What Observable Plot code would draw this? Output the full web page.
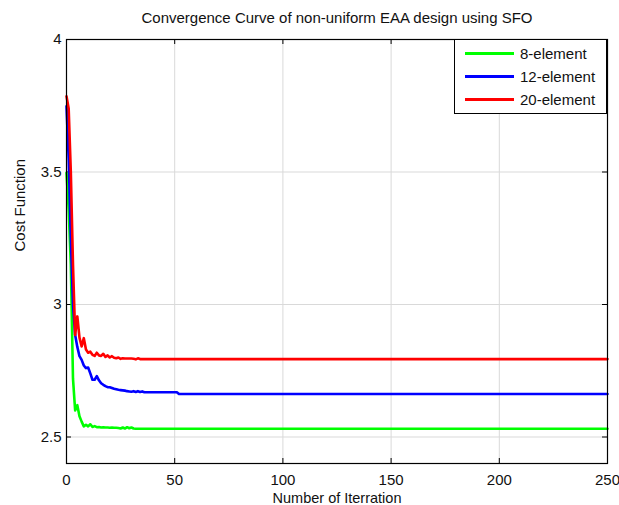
<!DOCTYPE html>
<html>
<head>
<meta charset="utf-8">
<script src="https://cdn.jsdelivr.net/npm/d3@7"></script>
<script src="https://cdn.jsdelivr.net/npm/@observablehq/plot@0.6"></script>
<style>
  html, body { margin: 0; padding: 0; background: #fff; }
  #wrap { position: relative; width: 619px; height: 505px; font-family: "Liberation Sans", Arial, sans-serif; }
  #wrap g[aria-label$="tick label"] { font-size: 15px !important; }
  #legend { position: absolute; left: 454px; top: 39px; width: 151px; height: 73px; border: 1px solid #000; background: #fff; font-size: 15px; color: #111; }
  #legend .row { position: absolute; left: 0; height: 20px; display: flex; align-items: center; }
  #legend .sw { width: 49px; height: 3px; margin-left: 10px; margin-right: 6px; }
</style>
</head>
<body>
<div id="wrap"></div>
<script>
const titleText = "Convergence Curve of non-uniform EAA design using SFO";
const xLabel = "Number of Iterration";
const yLabel = "Cost Function";
const seriesNames = ["8-element", "12-element", "20-element"];
const seriesColors = ["#00ff00", "#0000ff", "#ff0000"];
const xTicks = [0, 50, 100, 150, 200, 250];
const yTicks = [2.5, 3, 3.5, 4];
const lastIteration = 250;

// values at iterations 0,1,2,... (flat afterwards until the last iteration)
const green8 = [3.497, 3.36, 3.15, 2.72, 2.60, 2.62, 2.578, 2.558, 2.540, 2.546,
  2.540, 2.548, 2.538, 2.541, 2.537, 2.538, 2.536, 2.537, 2.536, 2.536,
  2.535, 2.536, 2.535, 2.535, 2.534, 2.532, 2.536, 2.532, 2.537, 2.533,
  2.536, 2.532, 2.531];
const blue12 = [3.748, 3.55, 3.25, 3.00, 2.885, 2.84, 2.805, 2.791, 2.770, 2.760,
  2.762, 2.740, 2.716, 2.716, 2.730, 2.714, 2.703, 2.697, 2.692, 2.688,
  2.688, 2.685, 2.682, 2.680, 2.678, 2.677, 2.676, 2.675, 2.673, 2.672,
  2.671, 2.673, 2.670, 2.673, 2.670, 2.672, 2.669, 2.669, 2.669, 2.669,
  2.669, 2.669, 2.669, 2.669, 2.669, 2.669, 2.669, 2.669, 2.669, 2.669,
  2.669, 2.669, 2.662];
const red20 = [3.786, 3.74, 3.50, 3.15, 2.885, 2.955, 2.875, 2.842, 2.873, 2.830,
  2.818, 2.822, 2.810, 2.806, 2.818, 2.808, 2.806, 2.814, 2.802, 2.808,
  2.800, 2.805, 2.799, 2.797, 2.800, 2.795, 2.797, 2.796, 2.796, 2.796,
  2.796, 2.795, 2.793, 2.797, 2.794];

const allSeries = [green8, blue12, red20];
const data = [];
allSeries.forEach((vals, s) => {
  vals.forEach((v, i) => data.push({series: seriesNames[s], iter: i, cost: v}));
  data.push({series: seriesNames[s], iter: lastIteration, cost: vals[vals.length - 1]});
});

const W = 619, H = 505, mL = 66, mR = 12, mT = 39, mB = 42;
const innerH = H - mT - mB, innerW = W - mL - mR;
const tickLen = 5;
const fs = 15;

const chart = Plot.plot({
  width: W, height: H,
  marginLeft: mL, marginRight: mR, marginTop: mT, marginBottom: mB,
  style: {fontFamily: "'Liberation Sans', Arial, sans-serif", fontSize: fs + "px", color: "#000", background: "#fff"},
  x: {domain: [0, 250], ticks: xTicks},
  y: {domain: [2.4, 4], ticks: yTicks},
  color: {domain: seriesNames, range: seriesColors},
  marks: [
    Plot.gridX(xTicks, {stroke: "#d9d9d9", strokeOpacity: 1}),
    Plot.gridY(yTicks, {stroke: "#d9d9d9", strokeOpacity: 1}),
    Plot.axisX(xTicks, {tickSize: 0, tickPadding: 11, label: null, fill: "#111", fontSize: fs}),
    Plot.axisY(yTicks, {tickSize: 0, tickPadding: 5, label: null, fill: "#111", fontSize: fs, tickFormat: d => String(d)}),
    Plot.ruleX(xTicks, {x: d => d, insetTop: innerH - tickLen, stroke: "#000"}),
    Plot.ruleX(xTicks, {x: d => d, insetBottom: innerH - tickLen, stroke: "#000"}),
    Plot.ruleY(yTicks, {y: d => d, insetRight: innerW - tickLen, stroke: "#000"}),
    Plot.ruleY(yTicks, {y: d => d, insetLeft: innerW - tickLen, stroke: "#000"}),
    Plot.line(data, {x: "iter", y: "cost", z: "series", stroke: "series", strokeWidth: 2.6, curve: "linear"}),
    Plot.frame({stroke: "#000", strokeWidth: 1.2}),
    Plot.text([titleText], {frameAnchor: "top", lineAnchor: "middle", dy: -21, fill: "#111", fontSize: fs}),
    Plot.text([xLabel], {frameAnchor: "bottom", lineAnchor: "middle", dy: 34.5, fill: "#111", fontSize: 14.5}),
    Plot.text([yLabel], {frameAnchor: "left", lineAnchor: "middle", dx: -46, rotate: -90, fill: "#111", fontSize: fs})
  ]
});

const wrap = document.getElementById("wrap");
wrap.appendChild(chart);

const legend = document.createElement("div");
legend.id = "legend";
seriesNames.forEach((name, i) => {
  const row = document.createElement("div");
  row.className = "row";
  row.style.top = (3 + i * 23) + "px";
  const sw = document.createElement("div");
  sw.className = "sw";
  sw.style.background = seriesColors[i];
  const label = document.createElement("span");
  label.textContent = name;
  row.appendChild(sw);
  row.appendChild(label);
  legend.appendChild(row);
});
wrap.appendChild(legend);
</script>
</body>
</html>
